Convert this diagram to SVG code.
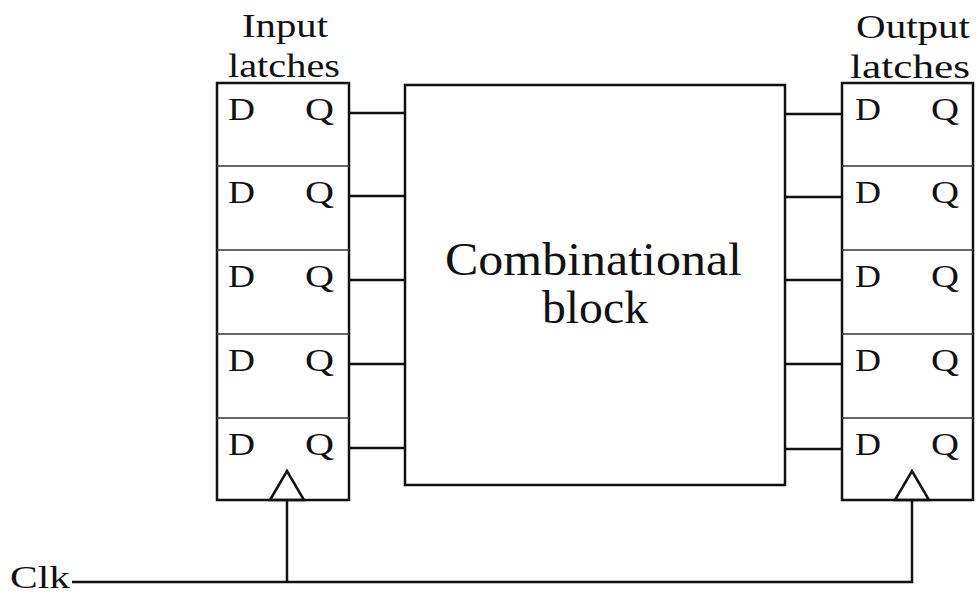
<svg xmlns="http://www.w3.org/2000/svg" width="976" height="596" viewBox="0 0 976 596">
<style>
.box{fill:#fff;stroke:#111;stroke-width:2.5}
.div{stroke:#333;stroke-width:1.6}
.w{stroke:#111;stroke-width:2.5;fill:none}
.t{font-family:"Liberation Serif","Times New Roman",serif;fill:#111}
.dq{font-size:32px}
.lbl{font-size:34px}
.big{font-size:46px}
</style>
<rect width="976" height="596" fill="#fff"/>
<g id="input-latches">
<rect class="box" x="217" y="83" width="132" height="417"/>
<line class="div" x1="217" y1="166" x2="349" y2="166"/>
<line class="div" x1="217" y1="250" x2="349" y2="250"/>
<line class="div" x1="217" y1="334" x2="349" y2="334"/>
<line class="div" x1="217" y1="418" x2="349" y2="418"/>
<polygon class="w" points="270,500 287,471 304,500"/>
<g class="t dq">
<text x="228" y="120" textLength="27" lengthAdjust="spacingAndGlyphs">D</text>
<text x="305" y="120" textLength="29" lengthAdjust="spacingAndGlyphs">Q</text>
<text x="228" y="203" textLength="27" lengthAdjust="spacingAndGlyphs">D</text>
<text x="305" y="203" textLength="29" lengthAdjust="spacingAndGlyphs">Q</text>
<text x="228" y="287" textLength="27" lengthAdjust="spacingAndGlyphs">D</text>
<text x="305" y="287" textLength="29" lengthAdjust="spacingAndGlyphs">Q</text>
<text x="228" y="371" textLength="27" lengthAdjust="spacingAndGlyphs">D</text>
<text x="305" y="371" textLength="29" lengthAdjust="spacingAndGlyphs">Q</text>
<text x="228" y="455" textLength="27" lengthAdjust="spacingAndGlyphs">D</text>
<text x="305" y="455" textLength="29" lengthAdjust="spacingAndGlyphs">Q</text>
</g>
<text class="t lbl" x="242" y="37" textLength="86" lengthAdjust="spacingAndGlyphs">Input</text>
<text class="t lbl" x="228" y="77" textLength="112" lengthAdjust="spacingAndGlyphs">latches</text>
</g>
<g id="combinational-block">
<rect class="box" x="405" y="85" width="380" height="400"/>
<text class="t big" x="445" y="275" textLength="297" lengthAdjust="spacingAndGlyphs">Combinational</text>
<text class="t big" x="542" y="323" textLength="106" lengthAdjust="spacingAndGlyphs">block</text>
</g>
<g id="output-latches">
<rect class="box" x="842" y="83" width="131" height="417"/>
<line class="div" x1="842" y1="166" x2="973" y2="166"/>
<line class="div" x1="842" y1="250" x2="973" y2="250"/>
<line class="div" x1="842" y1="334" x2="973" y2="334"/>
<line class="div" x1="842" y1="418" x2="973" y2="418"/>
<polygon class="w" points="895,500 912,471 929,500"/>
<g class="t dq">
<text x="855" y="120" textLength="26" lengthAdjust="spacingAndGlyphs">D</text>
<text x="931" y="120" textLength="28" lengthAdjust="spacingAndGlyphs">Q</text>
<text x="855" y="203" textLength="26" lengthAdjust="spacingAndGlyphs">D</text>
<text x="931" y="203" textLength="28" lengthAdjust="spacingAndGlyphs">Q</text>
<text x="855" y="287" textLength="26" lengthAdjust="spacingAndGlyphs">D</text>
<text x="931" y="287" textLength="28" lengthAdjust="spacingAndGlyphs">Q</text>
<text x="855" y="371" textLength="26" lengthAdjust="spacingAndGlyphs">D</text>
<text x="931" y="371" textLength="28" lengthAdjust="spacingAndGlyphs">Q</text>
<text x="855" y="455" textLength="26" lengthAdjust="spacingAndGlyphs">D</text>
<text x="931" y="455" textLength="28" lengthAdjust="spacingAndGlyphs">Q</text>
</g>
<text class="t lbl" x="856" y="38" textLength="114" lengthAdjust="spacingAndGlyphs">Output</text>
<text class="t lbl" x="850" y="78" textLength="120" lengthAdjust="spacingAndGlyphs">latches</text>
</g>
<g id="clk">
<text class="t" style="font-size:32px" x="10" y="588" textLength="60" lengthAdjust="spacingAndGlyphs">Clk</text>
</g>
<g id="connectors" class="w">
<line x1="349" y1="113" x2="405" y2="113"/>
<line x1="349" y1="196" x2="405" y2="196"/>
<line x1="349" y1="280" x2="405" y2="280"/>
<line x1="349" y1="364" x2="405" y2="364"/>
<line x1="349" y1="448" x2="405" y2="448"/>
<line x1="785" y1="114" x2="842" y2="114"/>
<line x1="785" y1="197" x2="842" y2="197"/>
<line x1="785" y1="280" x2="842" y2="280"/>
<line x1="785" y1="364" x2="842" y2="364"/>
<line x1="785" y1="449" x2="842" y2="449"/>
<polyline points="72,582 912,582 912,500"/>
<line x1="287" y1="582" x2="287" y2="500"/>
</g>
</svg>
